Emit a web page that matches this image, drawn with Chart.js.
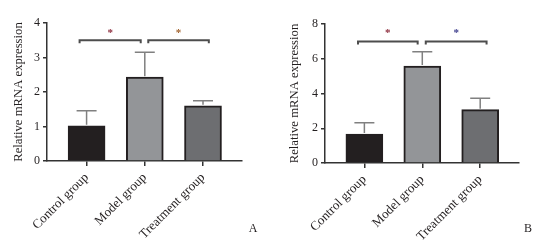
<!DOCTYPE html>
<html>
<head>
<meta charset="utf-8">
<script src="https://cdn.jsdelivr.net/npm/chart.js@4"></script>
<style>
  html, body { margin: 0; padding: 0; background: #fff; }
  #wrap { position: relative; width: 552px; height: 242px; overflow: hidden; }
  .panel { position: absolute; top: 0; width: 276px; height: 242px; }
</style>
</head>
<body>
<div id="wrap">
  <div class="panel" style="left:0"><canvas id="cA" width="276" height="242"></canvas></div>
  <div class="panel" style="left:276px"><canvas id="cB" width="276" height="242"></canvas></div>
</div>
<script>
// ---- data ----
const categories = ['Control group', 'Model group', 'Treatment group'];
const valuesA = [1.02, 2.43, 1.60];
const errorTopA = [1.46, 3.15, 1.75];
const valuesB = [1.67, 5.58, 3.07];
const errorTopB = [2.32, 6.41, 3.72];
const yTicksA = [0, 1, 2, 3, 4];
const yTicksB = [0, 2, 4, 6, 8];
const bracketsA = [[-0.12, 0.93], [1.06, 2.10]];
const bracketsB = [[-0.11, 0.92], [1.06, 2.11]];
const bracketLevelA = 3.5;
const bracketLevelB = 7.0;
const starLevelA = 3.77;
const starLevelB = 7.6;
const yTitle = 'Relative mRNA expression';

const FONT = '"Liberation Serif", "Times New Roman", serif';
const INK = '#231f20';
const barColors = ['#231f20', '#939598', '#6d6e71'];

function makeChart(id, letter, values, errTop, yTicks, brackets, bLevel, sLevel, starColors, geo) {
  const extras = {
    id: 'extras' + letter,
    afterDatasetsDraw(chart) {
      const ctx = chart.ctx;
      const xs = chart.scales.x, ys = chart.scales.y;
      ctx.save();
      // error bars (upper only)
      ctx.strokeStyle = '#808080';
      ctx.lineWidth = 1.5;
      values.forEach((v, i) => {
        const x = xs.getPixelForValue(i);
        const y0 = ys.getPixelForValue(v) - 1;
        const y1 = ys.getPixelForValue(errTop[i]);
        ctx.beginPath();
        ctx.moveTo(x, y0); ctx.lineTo(x, y1);
        ctx.moveTo(x - 10, y1); ctx.lineTo(x + 10, y1);
        ctx.stroke();
      });
      // significance brackets
      ctx.strokeStyle = '#4d4d4d';
      ctx.lineWidth = 2;
      const yb = ys.getPixelForValue(bLevel);
      const yst = ys.getPixelForValue(sLevel);
      brackets.forEach((b, k) => {
        const x1 = xs.getPixelForValue(b[0]);
        const x2 = xs.getPixelForValue(b[1]);
        ctx.beginPath();
        ctx.moveTo(x1, yb + 3); ctx.lineTo(x1, yb); ctx.lineTo(x2, yb); ctx.lineTo(x2, yb + 3);
        ctx.stroke();
        ctx.fillStyle = starColors[k];
        ctx.font = 'bold 11px ' + FONT;
        ctx.textAlign = 'center';
        ctx.textBaseline = 'middle';
        ctx.fillText('*', (x1 + x2) / 2, yst + 2);
      });
      // panel letter
      ctx.fillStyle = INK;
      ctx.font = '12px ' + FONT;
      ctx.textAlign = 'center';
      ctx.textBaseline = 'middle';
      ctx.fillText(letter, geo.letterX, 229);
      ctx.restore();
    }
  };

  return new Chart(document.getElementById(id), {
    type: 'bar',
    data: {
      datasets: [{
        data: values.map((v, i) => ({ x: i, y: v })),
        backgroundColor: barColors,
        borderColor: INK,
        borderWidth: 2,
        borderSkipped: 'bottom',
        barThickness: 37
      }]
    },
    options: {
      responsive: false,
      animation: false,
      devicePixelRatio: 1,
      layout: { padding: { top: geo.top, right: geo.right, left: 0, bottom: 0 } },
      plugins: { legend: { display: false }, tooltip: { enabled: false } },
      scales: {
        x: {
          type: 'linear',
          offset: false,
          min: -0.68,
          max: 2.67,
          afterBuildTicks(scale) { scale.ticks = categories.map((c, i) => ({ value: i })); },
          afterFit(scale) { scale.height = 242 - geo.bottom; },
          ticks: {
            autoSkip: false,
            minRotation: 45,
            maxRotation: 45,
            padding: 4,
            color: INK,
            font: { family: FONT, size: 13 },
            callback: (v) => categories[v]
          },
          grid: { offset: false, drawOnChartArea: false, drawTicks: true, tickLength: 5, color: '#333', lineWidth: 1.5 },
          border: { display: true, color: '#333', width: 1.5 }
        },
        y: {
          min: yTicks[0],
          max: yTicks[yTicks.length - 1],
          afterBuildTicks(scale) { scale.ticks = yTicks.map(v => ({ value: v })); },
          afterFit(scale) { scale.width = geo.left; },
          ticks: { color: INK, padding: 3, font: { family: FONT, size: 12 } },
          grid: { drawOnChartArea: false, drawTicks: true, tickLength: 4, color: '#333', lineWidth: 1.5 },
          border: { display: true, color: '#333', width: 1.5 },
          title: {
            display: true,
            text: yTitle,
            color: INK,
            font: { family: FONT, size: 12.7 },
            padding: { top: 11, bottom: 0 }
          }
        }
      }
    },
    plugins: [extras]
  });
}

makeChart('cA', 'A', valuesA, errorTopA, yTicksA, bracketsA, bracketLevelA, starLevelA,
  ['#8b2a3a', '#a0602a'], { top: 23, bottom: 161, left: 47, right: 276 - 242, letterX: 253 });
makeChart('cB', 'B', valuesB, errorTopB, yTicksB, bracketsB, bracketLevelB, starLevelB,
  ['#8b2a3a', '#3a3a8a'], { top: 24, bottom: 163, left: 49, right: 276 - 243, letterX: 252 });
</script>
</body>
</html>
